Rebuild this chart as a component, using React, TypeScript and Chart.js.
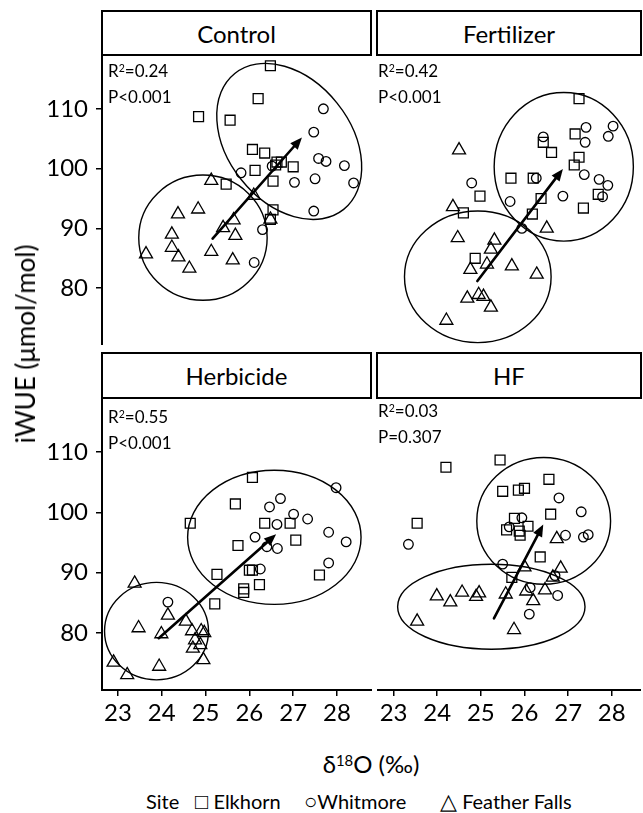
import React, { useEffect, useRef } from "react";
import { Chart, registerables } from "chart.js";

Chart.register(...registerables);

type Pt = [number, number];
type Ell = { cx: number; cy: number; hw: number; hh: number; r: number };

const FONT = "Lato, 'Open Sans', 'DejaVu Sans', sans-serif";
const WEIGHT = 400;

// ---- axes ----
const xTicks = [23, 24, 25, 26, 27, 28];
const yTicks = [80, 90, 100, 110];
const yMin = 70.5;
const yMax = 119;
const xRangeLeft = [22.635, 28.8];
const xRangeRight = [22.62, 28.67];

// ---- Control ----
const controlElkhorn: Pt[] = [
  [26.48, 117.2], [26.2, 111.7], [24.84, 108.7], [25.56, 108.1], [26.07, 103.2],
  [26.35, 102.6], [26.13, 99.7], [26.63, 101.1], [26.73, 101.1], [26.6, 100.6],
  [27.0, 100.3], [26.54, 97.9], [25.47, 97.4], [26.54, 93.1], [26.48, 91.5],
];
const controlWhitmore: Pt[] = [
  [27.69, 110.0], [27.47, 106.1], [27.58, 101.7], [27.75, 101.2], [28.17, 100.5],
  [28.38, 97.6], [27.5, 98.3], [27.03, 97.7], [27.47, 92.9], [25.81, 99.3],
  [26.3, 89.8], [26.11, 84.3], [26.52, 100.4],
];
const controlFeather: Pt[] = [
  [23.64, 85.7], [24.37, 92.4], [24.83, 93.2], [24.23, 89.0], [24.23, 86.8],
  [24.38, 85.2], [24.63, 83.3], [25.13, 98.0], [25.4, 90.1], [25.64, 91.4],
  [25.68, 88.8], [25.13, 86.1], [25.62, 84.7], [26.1, 95.5], [26.48, 91.5],
];
const controlEllipses: Ell[] = [
  { cx: 24.94, cy: 88.45, hw: 1.466, hh: 10.47, r: 0 },
  { cx: 26.91, cy: 104.55, hw: 1.655, hh: 13.05, r: -0.33 },
];
const controlArrow: Pt[] = [[25.16, 88.3], [27.2, 105.2]];

// ---- Fertilizer ----
const fertElkhorn: Pt[] = [
  [27.25, 111.7], [27.16, 105.8], [26.43, 104.4], [26.62, 102.7], [27.25, 101.9],
  [27.14, 100.6], [25.69, 98.4], [26.2, 98.4], [24.98, 95.4], [26.38, 95.0],
  [27.69, 95.7], [27.35, 93.4], [24.6, 92.6], [26.18, 92.4], [24.87, 85.0],
];
const fertWhitmore: Pt[] = [
  [26.43, 105.3], [27.41, 106.9], [28.03, 107.1], [27.92, 105.4], [27.39, 104.4],
  [26.27, 98.4], [27.37, 99.0], [27.71, 98.2], [27.91, 97.2], [27.79, 95.3],
  [26.88, 95.4], [24.79, 97.6], [25.67, 94.5], [25.94, 90.0],
];
const fertFeather: Pt[] = [
  [24.5, 103.1], [24.36, 93.6], [24.47, 88.4], [26.51, 90.0], [25.31, 88.0],
  [25.23, 86.5], [25.14, 84.0], [24.76, 83.1], [25.71, 83.7], [26.28, 82.3],
  [24.69, 78.3], [24.95, 78.9], [25.06, 78.6], [25.23, 76.8], [24.21, 74.6],
];
const fertEllipses: Ell[] = [
  { cx: 24.93, cy: 81.9, hw: 1.68, hh: 11.0, r: 0 },
  { cx: 26.9, cy: 100.3, hw: 1.595, hh: 12.42, r: 0 },
];
const fertArrow: Pt[] = [[24.92, 81.2], [26.88, 99.95]];

// ---- Herbicide ----
const herbElkhorn: Pt[] = [
  [26.07, 105.8], [25.68, 101.4], [24.65, 98.2], [26.35, 98.2], [26.93, 98.2],
  [27.06, 95.4], [25.74, 94.5], [25.26, 89.7], [26.0, 90.4], [26.07, 90.4],
  [25.87, 87.3], [25.87, 86.7], [26.23, 88.0], [27.6, 89.6], [25.21, 84.8],
];
const herbWhitmore: Pt[] = [
  [27.98, 104.1], [26.71, 102.3], [26.46, 100.9], [27.01, 99.7], [27.33, 98.9],
  [26.63, 98.0], [27.81, 96.7], [28.21, 95.1], [26.13, 95.9], [26.4, 94.3],
  [26.64, 94.0], [27.81, 91.6], [26.25, 90.6], [24.14, 85.1],
];
const herbFeather: Pt[] = [
  [23.38, 88.2], [24.14, 82.9], [23.47, 80.8], [23.99, 79.8], [24.55, 81.9],
  [24.69, 80.3], [24.97, 80.0], [24.76, 78.8], [24.88, 78.0], [24.71, 77.4],
  [24.95, 75.5], [22.9, 75.1], [23.21, 73.0], [23.94, 74.4], [24.9, 80.3],
];
const herbEllipses: Ell[] = [
  { cx: 23.88, cy: 80.28, hw: 1.187, hh: 8.09, r: 0 },
  { cx: 26.57, cy: 95.87, hw: 1.98, hh: 11.14, r: 0 },
];
const herbArrow: Pt[] = [[23.93, 79.1], [26.61, 96.35]];

// ---- HF ----
const hfElkhorn: Pt[] = [
  [24.2, 107.5], [25.44, 108.7], [26.56, 105.5], [25.5, 103.5], [25.86, 103.7],
  [26.0, 104.0], [26.6, 99.7], [23.54, 98.2], [25.77, 99.0], [26.08, 97.7],
  [25.59, 97.1], [25.88, 96.9], [25.9, 96.2], [26.36, 92.6], [25.71, 89.2],
];
const hfWhitmore: Pt[] = [
  [26.79, 102.4], [27.3, 100.1], [25.94, 99.1], [25.65, 97.6], [26.94, 96.2],
  [27.46, 96.3], [27.35, 95.9], [23.34, 94.7], [25.5, 91.4], [26.7, 89.5],
  [26.13, 87.5], [26.76, 86.2], [26.11, 83.1],
];
const hfFeather: Pt[] = [
  [26.74, 95.6], [26.83, 90.7], [26.0, 90.9], [26.65, 89.2], [26.47, 87.1],
  [26.04, 86.9], [26.2, 85.3], [25.57, 86.4], [24.96, 86.6], [24.89, 86.0],
  [24.57, 86.7], [23.99, 86.1], [24.3, 85.1], [23.54, 81.9], [25.76, 80.5],
];
const hfEllipses: Ell[] = [
  { cx: 25.24, cy: 84.33, hw: 2.147, hh: 7.05, r: 0 },
  { cx: 26.44, cy: 98.59, hw: 1.533, hh: 10.53, r: 0 },
];
const hfArrow: Pt[] = [[25.3, 82.4], [26.43, 98.0]];

// ---- labels ----
const panelTitles = ["Control", "Fertilizer", "Herbicide", "HF"];
const r2Values = ["0.24", "0.42", "0.55", "0.03"];
const pValues = ["P<0.001", "P<0.001", "P<0.001", "P=0.307"];
const siteNames = ["Elkhorn", "Whitmore", "Feather Falls"];
const siteSymbols = ["□", "○", "△"];

interface PanelData {
  elkhorn: Pt[];
  whitmore: Pt[];
  feather: Pt[];
  ellipses: Ell[];
  arrow: Pt[];
  xRange: number[];
}

const panels: PanelData[] = [
  { elkhorn: controlElkhorn, whitmore: controlWhitmore, feather: controlFeather, ellipses: controlEllipses, arrow: controlArrow, xRange: xRangeLeft },
  { elkhorn: fertElkhorn, whitmore: fertWhitmore, feather: fertFeather, ellipses: fertEllipses, arrow: fertArrow, xRange: xRangeRight },
  { elkhorn: herbElkhorn, whitmore: herbWhitmore, feather: herbFeather, ellipses: herbEllipses, arrow: herbArrow, xRange: xRangeLeft },
  { elkhorn: hfElkhorn, whitmore: hfWhitmore, feather: hfFeather, ellipses: hfEllipses, arrow: hfArrow, xRange: xRangeRight },
];

interface PanelProps {
  p: PanelData;
  left: number;
  top: number;
  width: number;
  height: number;
  showX: boolean;
  showY: boolean;
  yAxisW: number;
  xAxisH: number;
}

function PanelChart({ p, left, top, width, height, showX, showY, yAxisW, xAxisH }: PanelProps) {
  const ref = useRef<HTMLCanvasElement>(null);
  useEffect(() => {
    const overlay = {
      id: "overlay",
      afterDatasetsDraw(chart: any) {
        const { ctx, chartArea: a } = chart;
        const xs = chart.scales.x;
        const ys = chart.scales.y;
        ctx.save();
        ctx.beginPath();
        ctx.rect(a.left, a.top, a.right - a.left, a.bottom - a.top);
        ctx.clip();
        ctx.strokeStyle = "#000";
        ctx.lineWidth = 1.4;
        for (const e of p.ellipses) {
          const cx = xs.getPixelForValue(e.cx);
          const cy = ys.getPixelForValue(e.cy);
          const ax = Math.abs(xs.getPixelForValue(e.cx + e.hw) - cx);
          const ay = Math.abs(ys.getPixelForValue(e.cy + e.hh) - cy);
          const sxx = ax * ax;
          const syy = ay * ay;
          const sxy = -e.r * ax * ay;
          const tr = (sxx + syy) / 2;
          const d = Math.sqrt(((sxx - syy) / 2) ** 2 + sxy * sxy);
          const theta = 0.5 * Math.atan2(2 * sxy, sxx - syy);
          ctx.beginPath();
          ctx.ellipse(cx, cy, Math.sqrt(tr + d), Math.sqrt(Math.max(tr - d, 0.1)), theta, 0, Math.PI * 2);
          ctx.stroke();
        }
        // arrow
        const x0 = xs.getPixelForValue(p.arrow[0][0]);
        const y0 = ys.getPixelForValue(p.arrow[0][1]);
        const x1 = xs.getPixelForValue(p.arrow[1][0]);
        const y1 = ys.getPixelForValue(p.arrow[1][1]);
        const ang = Math.atan2(y1 - y0, x1 - x0);
        const hl = 12;
        const hwid = 5;
        ctx.lineWidth = 2.6;
        ctx.lineCap = "round";
        ctx.beginPath();
        ctx.moveTo(x0, y0);
        ctx.lineTo(x1 - Math.cos(ang) * (hl - 2), y1 - Math.sin(ang) * (hl - 2));
        ctx.stroke();
        ctx.fillStyle = "#000";
        ctx.beginPath();
        ctx.moveTo(x1, y1);
        ctx.lineTo(x1 - Math.cos(ang) * hl - Math.sin(ang) * hwid, y1 - Math.sin(ang) * hl + Math.cos(ang) * hwid);
        ctx.lineTo(x1 - Math.cos(ang) * hl + Math.sin(ang) * hwid, y1 - Math.sin(ang) * hl - Math.cos(ang) * hwid);
        ctx.closePath();
        ctx.fill();
        ctx.restore();
      },
    };

    const mk = (label: string, pts: Pt[], style: string, radius: number) => ({
      label,
      data: pts.map(([x, y]) => ({ x, y })),
      pointStyle: style,
      pointRadius: radius,
      pointHoverRadius: radius,
      borderColor: "#000",
      backgroundColor: "rgba(0,0,0,0)",
      pointBorderWidth: 1.3,
      borderWidth: 1.3,
    });

    const chart = new Chart(ref.current as HTMLCanvasElement, {
      type: "scatter",
      data: {
        datasets: [
          mk(siteNames[0], p.elkhorn, "rect", 7),
          mk(siteNames[1], p.whitmore, "circle", 4.8),
          mk(siteNames[2], p.feather, "triangle", 7.5),
        ] as any,
      },
      options: {
        responsive: false,
        maintainAspectRatio: false,
        animation: false,
        layout: { padding: 0, autoPadding: false } as any,
        plugins: { legend: { display: false }, tooltip: { enabled: false }, title: { display: false } },
        scales: {
          x: {
            type: "linear",
            min: p.xRange[0],
            max: p.xRange[1],
            display: showX,
            afterBuildTicks: (s: any) => {
              s.ticks = xTicks.map((v) => ({ value: v }));
            },
            afterFit: (s: any) => {
              s.height = xAxisH;
              s.paddingLeft = 0;
              s.paddingRight = 0;
            },
            grid: { drawOnChartArea: false, drawTicks: true, tickLength: 6, color: "#000", lineWidth: 1.5 },
            border: { display: true, color: "#000", width: 2 },
            ticks: { font: { family: FONT, size: 24, weight: WEIGHT }, color: "#000", padding: 3, maxRotation: 0, autoSkip: false },
          },
          y: {
            type: "linear",
            min: yMin,
            max: yMax,
            display: showY,
            afterBuildTicks: (s: any) => {
              s.ticks = yTicks.map((v) => ({ value: v }));
            },
            afterFit: (s: any) => {
              s.width = yAxisW;
              s.paddingTop = 0;
              s.paddingBottom = 0;
            },
            grid: { drawOnChartArea: false, drawTicks: true, tickLength: 6, color: "#000", lineWidth: 1.5 },
            border: { display: true, color: "#000", width: 2 },
            ticks: { font: { family: FONT, size: 24, weight: WEIGHT }, color: "#000", padding: 8, autoSkip: false },
          },
        },
      } as any,
      plugins: [overlay],
    });
    return () => chart.destroy();
  }, [p, showX, showY, yAxisW, xAxisH]);
  return (
    <canvas
      ref={ref}
      width={width}
      height={height}
      style={{ position: "absolute", left, top, width, height }}
    />
  );
}

const Sup = ({ children }: { children: React.ReactNode }) => (
  <span style={{ fontSize: "0.62em", position: "relative", top: "-0.5em" }}>{children}</span>
);

function Strip({ text, left, top, width, height }: { text: string; left: number; top: number; width: number; height: number }) {
  return (
    <div
      style={{
        position: "absolute",
        left,
        top,
        width,
        height,
        border: "2px solid #000",
        boxSizing: "border-box",
        display: "flex",
        alignItems: "center",
        justifyContent: "center",
        fontSize: 24,
        background: "#fff",
      }}
    >
      {text}
    </div>
  );
}

function Stats({ i, left, top }: { i: number; left: number; top: number }) {
  return (
    <div style={{ position: "absolute", left, top, fontSize: 17, lineHeight: "24px", whiteSpace: "nowrap" }}>
      <div>
        R<Sup>2</Sup>={r2Values[i]}
      </div>
      <div>{pValues[i]}</div>
    </div>
  );
}

const Sym = ({ s }: { s: string }) => (
  <span style={{ fontFamily: "'DejaVu Sans', sans-serif", fontSize: 22, fontWeight: 300 }}>{s}</span>
);

export default function App() {
  return (
    <div
      style={{
        position: "absolute",
        left: 0,
        top: 0,
        width: 643,
        height: 813,
        background: "#fff",
        fontFamily: FONT,
        fontWeight: WEIGHT,
        color: "#000",
        overflow: "hidden",
      }}
    >
      <PanelChart p={panels[0]} left={0} top={55} width={372} height={290} showX={false} showY={true} yAxisW={102} xAxisH={0} />
      <PanelChart p={panels[1]} left={377} top={55} width={264} height={290} showX={false} showY={false} yAxisW={0} xAxisH={0} />
      <PanelChart p={panels[2]} left={0} top={398} width={372} height={337} showX={true} showY={true} yAxisW={102} xAxisH={45} />
      <PanelChart p={panels[3]} left={377} top={398} width={264} height={337} showX={true} showY={false} yAxisW={0} xAxisH={45} />

      <Strip text={panelTitles[0]} left={101} top={10} width={271} height={46} />
      <Strip text={panelTitles[1]} left={376} top={10} width={266} height={46} />
      <Strip text={panelTitles[2]} left={101} top={352} width={271} height={47} />
      <Strip text={panelTitles[3]} left={376} top={352} width={266} height={47} />

      <Stats i={0} left={108} top={59} />
      <Stats i={1} left={378} top={59} />
      <Stats i={2} left={108} top={405} />
      <Stats i={3} left={378} top={399} />

      <div
        style={{
          position: "absolute",
          left: 25,
          top: 344,
          transform: "translate(-50%, -50%) rotate(-90deg)",
          whiteSpace: "nowrap",
          fontSize: 26,
        }}
      >
        iWUE (μmol/mol)
      </div>

      <div
        style={{
          position: "absolute",
          left: 371,
          top: 750,
          transform: "translateX(-50%)",
          whiteSpace: "nowrap",
          fontSize: 24,
          lineHeight: 1.2,
        }}
      >
        δ<Sup>18</Sup>O (‰)
      </div>

      <div style={{ position: "absolute", left: 0, top: 789, fontSize: 20, lineHeight: "24px", whiteSpace: "nowrap", width: 643 }}>
        <span style={{ position: "absolute", left: 146 }}>Site</span>
        <span style={{ position: "absolute", left: 195 }}>
          <Sym s={siteSymbols[0]} /> {siteNames[0]}
        </span>
        <span style={{ position: "absolute", left: 304 }}>
          <Sym s={siteSymbols[1]} />{siteNames[1]}
        </span>
        <span style={{ position: "absolute", left: 440 }}>
          <Sym s={siteSymbols[2]} /> {siteNames[2]}
        </span>
      </div>
    </div>
  );
}
